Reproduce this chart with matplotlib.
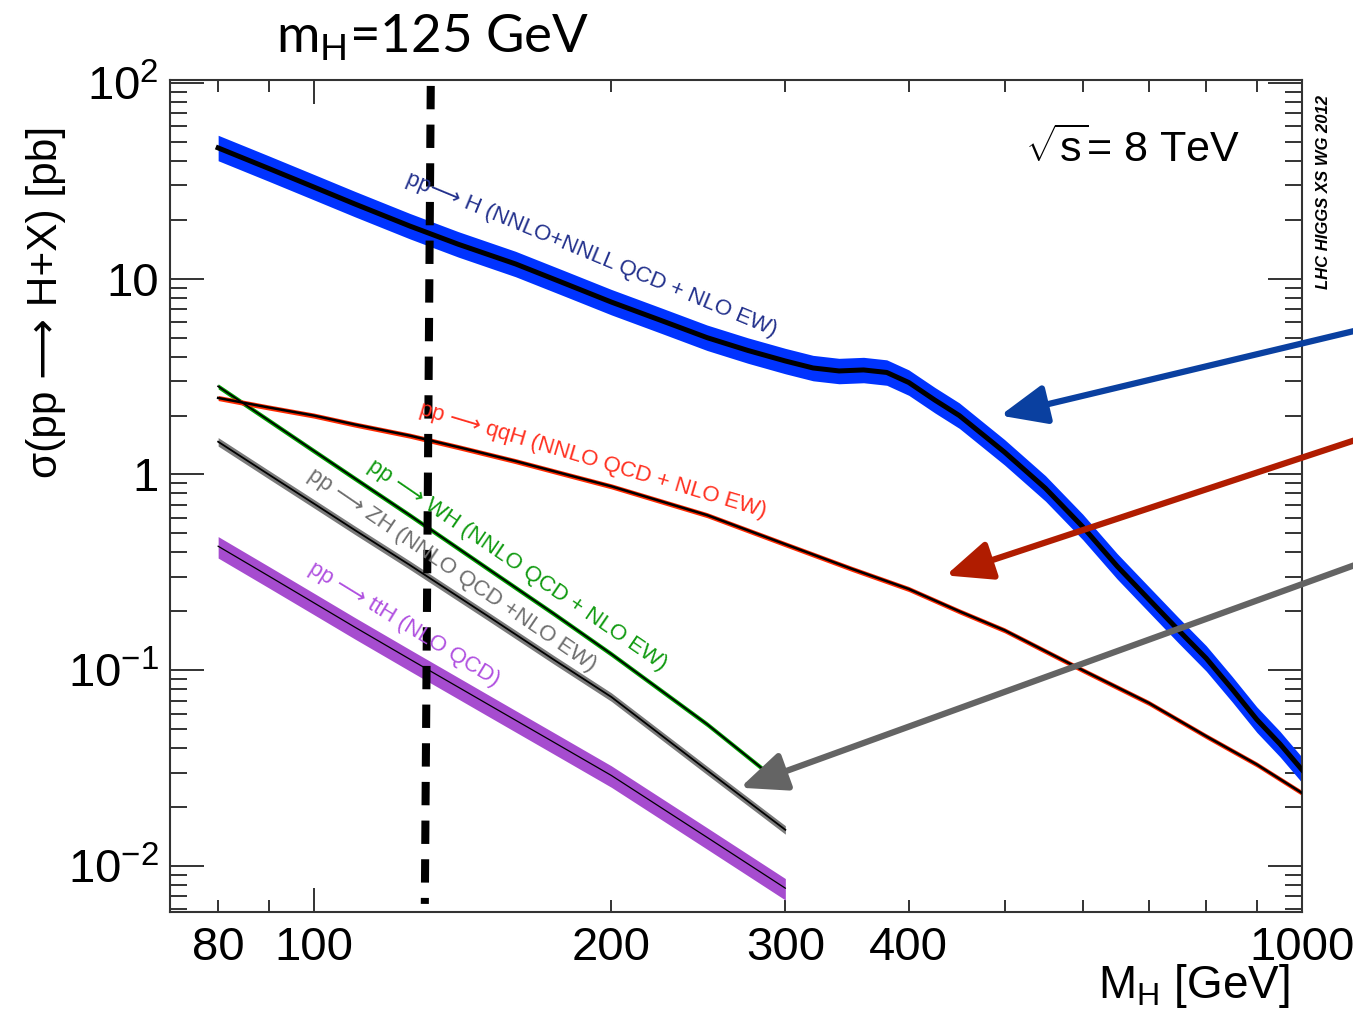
import numpy as np
import matplotlib.pyplot as plt
from matplotlib import ticker

# Higgs production cross sections at sqrt(s) = 8 TeV
mass_ggf = [80, 90, 100, 110, 125, 140, 160, 180, 200, 225, 250, 275, 300, 320, 340,
            360, 380, 400, 425, 450, 500, 550, 600, 650, 700, 750, 800, 850, 900, 950, 1000]
xs_ggf = [46.6, 36.6, 29.4, 24.1, 18.6, 15.0, 11.9, 9.4, 7.6, 6.1, 5.0, 4.3, 3.8, 3.5, 3.38,
          3.42, 3.32, 2.95, 2.4, 2.0, 1.3, 0.85, 0.54, 0.34, 0.23, 0.16, 0.115, 0.08, 0.056, 0.042, 0.031]

mass_vbf = [80, 90, 100, 110, 125, 140, 160, 180, 200, 250, 300, 350, 400, 450, 500,
            600, 700, 800, 900, 1000]
xs_vbf = [2.46, 2.2, 2.0, 1.8, 1.58, 1.38, 1.17, 1.0, 0.87, 0.62, 0.44, 0.33, 0.26, 0.20, 0.16,
          0.10, 0.068, 0.046, 0.033, 0.0236]

mass_vh = [80, 90, 100, 110, 125, 150, 175, 200, 250, 300]
xs_wh = [2.82, 1.89, 1.32, 0.955, 0.62, 0.33, 0.194, 0.121, 0.053, 0.0253]
xs_zh = [1.47, 1.0, 0.71, 0.52, 0.345, 0.189, 0.113, 0.073, 0.0308, 0.0153]
xs_tth = [0.43, 0.303, 0.221, 0.166, 0.114, 0.067, 0.0428, 0.029, 0.014, 0.0077]

# relative band edges (up, down)
band_ggf = (1.16, 0.86)
band_vbf = (1.03, 0.97)
band_wh = (1.03, 0.97)
band_zh = (1.05, 0.95)
band_tth = (1.12, 0.87)

ARROW = '\u27f6'
labels = {
    'ggf': f'pp{ARROW} H (NNLO+NNLL QCD + NLO EW)',
    'vbf': f'pp {ARROW} qqH (NNLO QCD + NLO EW)',
    'wh': f'pp {ARROW} WH (NNLO QCD + NLO EW)',
    'zh': f'pp {ARROW} ZH (NNLO QCD +NLO EW)',
    'tth': f'pp {ARROW} ttH (NLO QCD)',
}

plt.rcParams['font.family'] = ['Liberation Sans', 'DejaVu Sans']
plt.rcParams['mathtext.fontset'] = 'custom'
plt.rcParams['mathtext.rm'] = 'Liberation Sans'

fig = plt.figure(figsize=(13.53, 10.15), dpi=100)
ax = fig.add_axes([0.1256, 0.1015, 0.8367, 0.8197])


def draw(m, xs, band, fill, lw):
    m = np.array(m)
    xs = np.array(xs)
    ax.fill_between(m, xs * band[1], xs * band[0], color=fill, lw=0, zorder=2)
    ax.plot(m, xs, color='black', lw=lw, zorder=3)


draw(mass_vh, xs_tth, band_tth, '#a64ccf', 0.9)
draw(mass_vh, xs_zh, band_zh, '#7a7a7a', 1.3)
draw(mass_vh, xs_wh, band_wh, '#00a000', 1.3)
draw(mass_vbf, xs_vbf, band_vbf, '#ff2a00', 1.8)
draw(mass_ggf, xs_ggf, band_ggf, '#0033ff', 3.6)

ax.set_xscale('log')
ax.set_yscale('log')
ax.set_xlim(71.5, 1000)
ax.set_ylim(0.00582, 103.6)

# m_H = 125 GeV marker (hand drawn, slightly tilted)
ax.plot([131.3, 129.5], [96.6, 0.0064], color='black', lw=5.8,
        linestyle=(0, (2.9, 1.9)), dash_capstyle='butt', zorder=5)

# curve labels
lab_kw = dict(rotation_mode='anchor', ha='center', va='center', fontsize=16, zorder=6)
ax.text(191.1, 13.3, labels['ggf'], color='#22308c', rotation=-22.5, **lab_kw)
ax.text(191.6, 1.179, labels['vbf'], color='#ff3020', rotation=-16.6, **lab_kw)
ax.text(160.5, 0.343, labels['wh'], color='#109a10', rotation=-34.4, **lab_kw)
ax.text(137.9, 0.323, labels['zh'], color='#6e6e6e', rotation=-34.3, **lab_kw)
ax.text(123.3, 0.171, labels['tth'], color='#b050e0', rotation=-31.5, **lab_kw)

# arrows coming from the right
arrows = [((495, 2.0), (1128, 5.4), '#0a40a0'),
          ((436, 0.305), (1128, 1.49), '#b01c00'),
          ((270, 0.0251), (1128, 0.343), '#646464')]
for tip, tail, col in arrows:
    ax.annotate('', xy=tip, xytext=tail, annotation_clip=False,
                arrowprops=dict(arrowstyle='-|>,head_length=0.7,head_width=0.3',
                                mutation_scale=40, lw=4.5, color=col,
                                shrinkA=0, shrinkB=0, clip_on=False), zorder=7)

# ticks
ax.xaxis.set_major_locator(ticker.FixedLocator([100, 1000]))
ax.xaxis.set_minor_locator(ticker.FixedLocator([80, 90, 200, 300, 400, 500, 600, 700, 800, 900]))
xlab = {80: '80', 100: '100', 200: '200', 300: '300', 400: '400', 1000: '1000'}
xfmt = ticker.FuncFormatter(lambda v, p: xlab.get(int(round(v)), ''))
ax.xaxis.set_major_formatter(xfmt)
ax.xaxis.set_minor_formatter(xfmt)

ax.yaxis.set_major_locator(ticker.LogLocator(base=10, numticks=10))
ax.yaxis.set_minor_locator(ticker.LogLocator(base=10, subs=np.arange(2, 10), numticks=10))
ylab = {-2: r'$\mathregular{10^{-2}}$', -1: r'$\mathregular{10^{-1}}$', 0: '1', 1: '10',
        2: r'$\mathregular{10^{2}}$'}
ax.yaxis.set_major_formatter(ticker.FuncFormatter(lambda v, p: ylab.get(int(round(np.log10(v))), '')))
ax.yaxis.set_minor_formatter(ticker.NullFormatter())

ax.tick_params(axis='both', which='both', direction='in', top=True, right=True,
               labelsize=34, width=1.4, color='#333333')
ax.tick_params(axis='x', which='major', length=17.5, pad=10)
ax.tick_params(axis='x', which='minor', length=8.7, pad=10)
ax.tick_params(axis='y', which='major', length=24.5, pad=8)
ax.tick_params(axis='y', which='minor', length=12.2)
for s in ax.spines.values():
    s.set_linewidth(1.5)
    s.set_color('#333333')

# texts
fig.text(0.034, 0.7025, f'\u03c3(pp {ARROW} H+X) [pb]', rotation=90,
         ha='center', va='center', fontsize=30.5)
fig.text(0.953, 0.029, r'M$_\mathregular{H}$ [GeV]', ha='right', va='center', fontsize=33)
ax.text(0.755, 0.916, r'$\mathregular{\sqrt{s}}$= 8 TeV', transform=ax.transAxes,
        ha='left', va='center', fontsize=31)
fig.text(0.978, 0.811, 'LHC HIGGS XS WG 2012', rotation=90, ha='center', va='center',
         fontsize=12, fontweight='bold', fontstyle='italic')
fig.text(0.32, 0.9626, r'$\mathregular{m_H}$=125 GeV', ha='center', va='center',
         fontsize=38, family='Lato')

fig.savefig('out.png', dpi=100)
